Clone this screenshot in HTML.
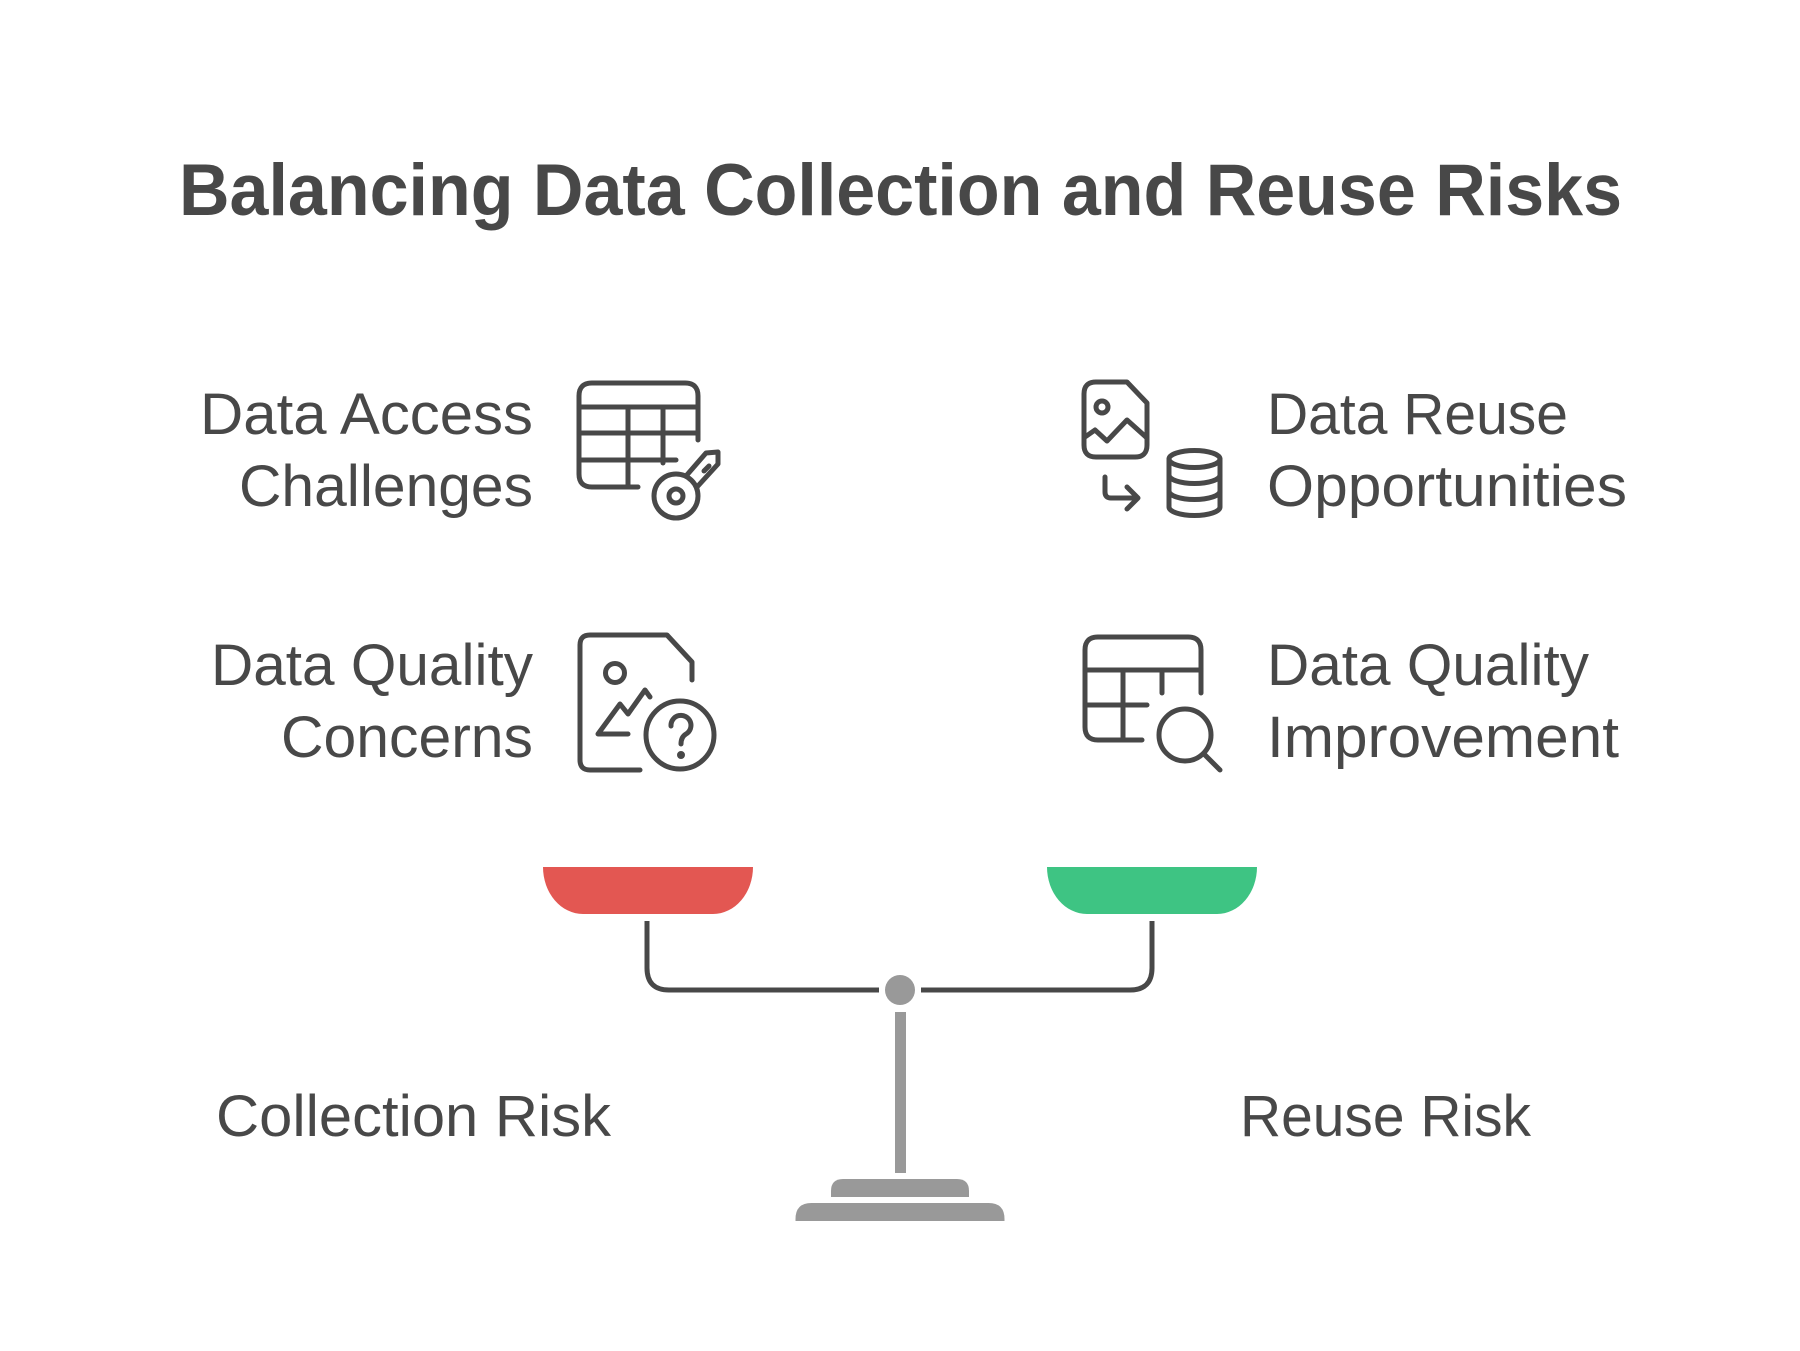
<!DOCTYPE html>
<html>
<head>
<meta charset="utf-8">
<style>
  html, body { margin: 0; padding: 0; background: #ffffff; }
  body { width: 1800px; height: 1351px; overflow: hidden; }
  svg { display: block; }
  text { font-family: "Liberation Sans", sans-serif; fill: #484848; }
</style>
</head>
<body>
<svg width="1800" height="1351" viewBox="0 0 1800 1351" xmlns="http://www.w3.org/2000/svg">
  <rect width="1800" height="1351" fill="#ffffff"/>

  <!-- Title -->
  <text x="179" y="215" font-size="73" font-weight="bold" textLength="1443" lengthAdjust="spacingAndGlyphs">Balancing Data Collection and Reuse Risks</text>

  <!-- Left labels -->
  <text x="200" y="434" font-size="58" textLength="333" lengthAdjust="spacingAndGlyphs">Data Access</text>
  <text x="239" y="506" font-size="58" textLength="294" lengthAdjust="spacingAndGlyphs">Challenges</text>
  <text x="211" y="685" font-size="58" textLength="322" lengthAdjust="spacingAndGlyphs">Data Quality</text>
  <text x="281" y="757" font-size="58" textLength="252" lengthAdjust="spacingAndGlyphs">Concerns</text>

  <!-- Right labels -->
  <text x="1267" y="434" font-size="58" textLength="301" lengthAdjust="spacingAndGlyphs">Data Reuse</text>
  <text x="1267" y="506" font-size="58" textLength="360" lengthAdjust="spacingAndGlyphs">Opportunities</text>
  <text x="1267" y="685" font-size="58" textLength="322" lengthAdjust="spacingAndGlyphs">Data Quality</text>
  <text x="1267" y="757" font-size="58" textLength="352" lengthAdjust="spacingAndGlyphs">Improvement</text>

  <!-- Bottom labels -->
  <text x="216" y="1136" font-size="58" textLength="395" lengthAdjust="spacingAndGlyphs">Collection Risk</text>
  <text x="1240" y="1136" font-size="58" textLength="291" lengthAdjust="spacingAndGlyphs">Reuse Risk</text>

  <!-- Icon 1: table with key -->
  <g fill="none" stroke="#484848" stroke-width="5" stroke-linecap="round" stroke-linejoin="round">
    <path d="M698 440 V396 Q698 383 685 383 H592 Q579 383 579 396 V474 Q579 487 592 487 H638"/>
    <line x1="579" y1="407" x2="698" y2="407"/>
    <line x1="579" y1="433" x2="698" y2="433"/>
    <line x1="579" y1="460" x2="676" y2="460"/>
    <line x1="628" y1="407" x2="628" y2="487"/>
    <line x1="663" y1="407" x2="663" y2="463"/>
    <circle cx="676" cy="496" r="22"/>
    <circle cx="676" cy="496" r="7"/>
    <path d="M686 476 L706 453 L718 452 L718 464 L697 487"/>
    <path d="M704 471 L709 466"/>
  </g>

  <!-- Icon 2: document image with question -->
  <g fill="none" stroke="#484848" stroke-width="5" stroke-linecap="round" stroke-linejoin="round">
    <path d="M692 680 V662 L667 635 H590 Q580 635 580 645 V760 Q580 770 590 770 H640"/>
    <circle cx="615" cy="673" r="9.5"/>
    <path d="M628 734 H598 L620 704 L628 714 L645 690 L650 697"/>
    <circle cx="680" cy="735" r="34"/>
    <path d="M671 726 A10 10 0 1 1 686 734 Q681 737 681 744"/>
    <circle cx="681" cy="755" r="1.5" fill="#484848"/>
  </g>

  <!-- Icon 3: image to database -->
  <g fill="none" stroke="#484848" stroke-width="5" stroke-linecap="round" stroke-linejoin="round">
    <path d="M1147 445 V403 L1127 382 H1096 Q1084 382 1084 394 V445 Q1084 457 1096 457 H1135 Q1147 457 1147 445 Z"/>
    <circle cx="1102" cy="407" r="6"/>
    <path d="M1085 437 L1095 430 L1107 441 L1127 420 L1147 438"/>
    <path d="M1105 477 V492 Q1105 498 1111 498 H1137"/>
    <path d="M1127 487 L1138 498 L1127 509"/>
    <ellipse cx="1194.5" cy="459" rx="25.5" ry="8.5"/>
    <path d="M1169 459 V507 A25.5 8.5 0 0 0 1220 507 V459"/>
    <path d="M1169 475 A25.5 8.5 0 0 0 1220 475"/>
    <path d="M1169 491 A25.5 8.5 0 0 0 1220 491"/>
  </g>

  <!-- Icon 4: table with magnifier -->
  <g fill="none" stroke="#484848" stroke-width="5" stroke-linecap="round" stroke-linejoin="round">
    <path d="M1201 693 V650 Q1201 637 1188 637 H1098 Q1085 637 1085 650 V727 Q1085 740 1098 740 H1142"/>
    <line x1="1085" y1="670" x2="1201" y2="670"/>
    <line x1="1123" y1="670" x2="1123" y2="740"/>
    <line x1="1162" y1="670" x2="1162" y2="693"/>
    <line x1="1085" y1="705" x2="1147" y2="705"/>
    <circle cx="1185" cy="735" r="26"/>
    <line x1="1204" y1="754" x2="1220" y2="770"/>
  </g>

  <!-- Scale pans -->
  <path d="M543 867 H753 A40 47 0 0 1 713 914 H583 A40 47 0 0 1 543 867 Z" fill="#e35752"/>
  <path d="M1047 867 H1257 A40 47 0 0 1 1217 914 H1087 A40 47 0 0 1 1047 867 Z" fill="#3ec483"/>

  <!-- Hangers / beam -->
  <g fill="none" stroke="#484848" stroke-width="5">
    <path d="M647 921 V968 Q647 990 669 990 H879"/>
    <path d="M1152 921 V968 Q1152 990 1130 990 H921"/>
  </g>
  <circle cx="900" cy="990" r="15" fill="#999999"/>

  <!-- Stand -->
  <rect x="895" y="1012" width="11" height="161" fill="#999999"/>
  <path d="M831 1197 V1191 Q831 1179 843 1179 H957 Q969 1179 969 1191 V1197 Z" fill="#999999"/>
  <path d="M795.5 1221 V1219 Q795.5 1203 811.5 1203 H988.5 Q1004.5 1203 1004.5 1219 V1221 Z" fill="#999999"/>
</svg>
</body>
</html>
